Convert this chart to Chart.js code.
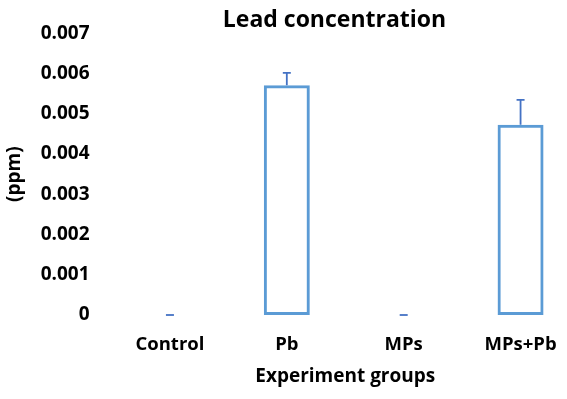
<!DOCTYPE html>
<html>
<head>
<meta charset="utf-8">
<script src="https://cdn.jsdelivr.net/npm/chart.js@4/dist/chart.umd.min.js"></script>
<style>
  html, body { margin: 0; padding: 0; overflow: hidden; background: #fff; }
  #wrap { width: 579px; height: 399px; }
</style>
</head>
<body>
<div id="wrap"><canvas id="c" width="579" height="399"></canvas></div>
<script>
const categories = ['Control', 'Pb', 'MPs', 'MPs+Pb'];
const leadValues = [0, 0.00571, 0, 0.00473];
const leadErrors = [0, 0.00031, 0, 0.00062];
const yTickValues = [0, 0.001, 0.002, 0.003, 0.004, 0.005, 0.006, 0.007];

const FONT = '"Open Sans", "Liberation Sans", sans-serif';

const errorBars = {
  id: 'errorBars',
  afterDatasetsDraw(chart) {
    const meta = chart.getDatasetMeta(0);
    const y = chart.scales.y;
    const ctx = chart.ctx;
    ctx.save();
    ctx.strokeStyle = '#4472C4';
    ctx.lineWidth = 1.8;
    meta.data.forEach((bar, i) => {
      const v = leadValues[i];
      const e = leadErrors[i];
      const y0 = y.getPixelForValue(v);
      const y1 = y.getPixelForValue(v + e);
      const x = bar.x;
      ctx.beginPath();
      if (e > 0) {
        ctx.moveTo(x, y0);
        ctx.lineTo(x, y1);
      }
      ctx.moveTo(x - 4, y1);
      ctx.lineTo(x + 4, y1);
      ctx.stroke();
    });
    ctx.restore();
  }
};

const titleShift = {
  id: 'titleShift',
  afterLayout(chart) {
    const tb = chart.titleBlock;
    if (tb) {
      tb.left = 90;
      tb.right = 579;
      tb.width = tb.right - tb.left;
    }
  }
};

new Chart(document.getElementById('c'), {
  type: 'bar',
  data: {
    labels: categories,
    datasets: [{
      label: 'Lead concentration',
      data: leadValues,
      backgroundColor: 'rgba(255,255,255,0)',
      borderColor: '#5B9BD5',
      borderWidth: 3,
      borderSkipped: false,
      categoryPercentage: 1,
      barPercentage: 0.3935
    }]
  },
  options: {
    responsive: false,
    animation: false,
    layout: { padding: { left: 0, right: 0, top: 0, bottom: 0 } },
    plugins: {
      legend: { display: false },
      tooltip: { enabled: false },
      title: {
        display: true,
        text: 'Lead concentration',
        color: '#000',
        font: { family: FONT, size: 23, weight: 'bold', lineHeight: 1.1 },
        padding: { top: 8, bottom: 0 }
      }
    },
    scales: {
      x: {
        offset: true,
        grid: { display: false, drawTicks: false },
        border: { display: false },
        ticks: {
          color: '#000',
          font: { family: FONT, size: 18.5, weight: 'bold', lineHeight: 1.2 },
          padding: 18.9,
          maxRotation: 0
        },
        title: {
          display: true,
          text: 'Experiment groups',
          color: '#000',
          font: { family: FONT, size: 19, weight: 'bold', lineHeight: 1.2 },
          padding: { top: 0, bottom: 10.6 }
        },
        afterFit(scale) { scale.height = 84; }
      },
      y: {
        min: 0,
        max: 0.007,
        grid: { display: false, drawTicks: false },
        border: { display: false },
        afterBuildTicks(scale) { scale.ticks = yTickValues.map(v => ({ value: v })); },
        ticks: {
          color: '#000',
          font: { family: FONT, size: 19, weight: 'bold', lineHeight: 1.2 },
          padding: 22,
          callback: (v) => v === 0 ? '0' : v.toFixed(3)
        },
        title: {
          display: true,
          text: '(ppm)',
          color: '#000',
          font: { family: FONT, size: 19, weight: 'bold', lineHeight: 1.2 },
          padding: { top: 3.6, bottom: 0 }
        },
        afterFit(scale) { scale.width = 111.5; }
      }
    }
  },
  plugins: [errorBars, titleShift]
});
</script>
</body>
</html>
